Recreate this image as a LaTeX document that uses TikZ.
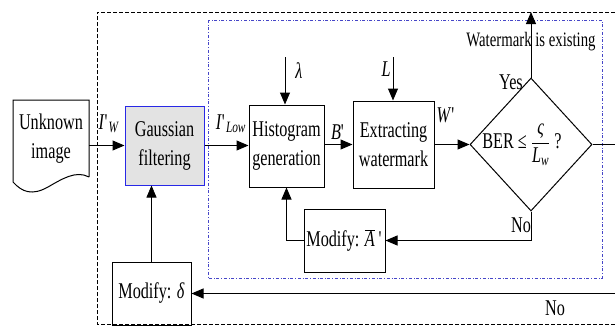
\documentclass[tikz,border=0pt]{standalone}
\usepackage{fontspec}
\setmainfont{Liberation Serif}[FakeStretch=0.72]
\usetikzlibrary{arrows.meta, positioning, shapes.geometric}
\definecolor{frameblue}{RGB}{70,70,200}
\definecolor{boxblue}{RGB}{40,40,230}
\newcommand{\qprime}{\textquotesingle}

\begin{document}
\begin{tikzpicture}[x=1pt, y=-1pt,
  every node/.style={font=\fontsize{22.5}{29}\selectfont},
  block/.style={draw, line width=1pt, align=center, inner sep=0pt},
  arr/.style={-{Triangle[length=12pt,width=10pt]}, line width=1pt},
  lbl/.style={inner sep=1pt}]
  \useasboundingbox (0,0) rectangle (615,332);
  \draw[dash pattern=on 4pt off 2pt, line width=0.7pt] (615,324) -- (97,324) -- (97,12) -- (615,12);
  \draw[frameblue, dash dot, line width=0.9pt] (208,20) rectangle (602,278);

  \node[align=center, minimum width=76pt, minimum height=77pt, inner sep=0pt] (unk) at (51,139) {Unknown\\image};
  \draw[line width=1pt] (89,177) -- (89,100) -- (13,100) -- (13,182)
    .. controls (22,192) and (32,196) .. (48,187) .. controls (62,179) and (76,170) .. (89,177);

  \node[block, fill=gray!22, draw=boxblue, minimum width=79pt, minimum height=79pt] (gauss) at (164.5,145.5) {Gaussian\\filtering};
  \node[block, minimum width=75pt, minimum height=82pt] (hist) at (286.5,146) {Histogram\\generation};
  \node[block, minimum width=81pt, minimum height=87pt] (extr) at (393.5,144.5) {Extracting\\watermark};
  \node[draw, diamond, line width=1pt, minimum width=122pt, minimum height=133pt, inner sep=0pt,
    label={[xshift=-9pt]center:BER ≤ $\displaystyle\frac{\textit{ς}}{\textit{L}\textsubscript{\textit{w}}}$ ?}] (ber) at (531,144.5) {};
  \node[block, minimum width=81pt, minimum height=63pt] (modA) at (344.5,240.5) {Modify: $\overline{\mbox{\textit{A}}}$\,\qprime};
  \node[block, minimum width=79pt, minimum height=63pt] (modD) at (151.5,293.5) {Modify: \textit{δ}};

  \coordinate (lam) at (285,57);
  \coordinate (ltop) at (393,57);
  \coordinate (exist) at (531,12);
  \coordinate (outR) at (615,144.5);
  \coordinate (outB) at (615,293.5);

  \draw[arr] (unk.east |- gauss.west) -- (gauss.west);
  \draw[arr] (gauss.east) -- (gauss.east -| hist.west);
  \draw[arr] (hist.east |- extr.west) -- (extr.west);
  \draw[arr] (extr.east) -- (ber.west);
  \draw[arr] (lam) -- (lam |- hist.north);
  \draw[arr] (ltop) -- (ltop |- extr.north);
  \draw[arr] (ber.north) -- (exist);
  \draw[line width=1pt] (ber.east) -- (outR);
  \draw[arr] (ber.south) |- (modA.east);
  \draw[arr] (modA.west) -| (hist.south);
  \draw[arr, line width=0.6pt] (modD.north) -- (modD.north |- gauss.south);
  \draw[arr] (outB) -- (modD.east);

  \node[lbl] (iw) at (109,124) {\textit{I}\qprime\textsubscript{\textit{W}}};
  \node[lbl] (ilow) at (231,124) {\textit{I}\qprime\textsubscript{\textit{Low}}};
  \node[lbl] (bp) at (338,132) {\textit{B}\qprime};
  \node[lbl] (wp) at (446,115) {\textit{W}\qprime};
  \node[lbl] (laml) at (299,71) {\textit{λ}};
  \node[lbl] (ll) at (386,69) {\textit{L}};
  \node[lbl, font=\fontsize{20.5}{24}\selectfont] (wex) at (531,42) {Watermark is existing};
  \node[lbl] (yes) at (511,82) {Yes};
  \node[lbl] (no1) at (521,225) {No};
  \node[lbl] (no2) at (555,308) {No};
\end{tikzpicture}
\end{document}
